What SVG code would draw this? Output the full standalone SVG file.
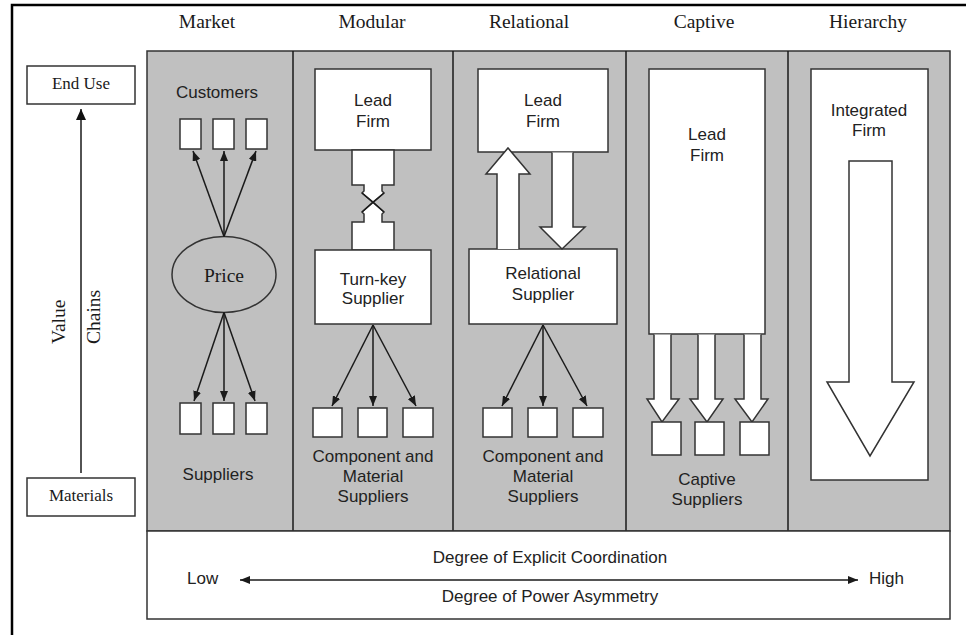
<svg xmlns="http://www.w3.org/2000/svg" width="966" height="635" viewBox="0 0 966 635">
<defs>
<marker id="ah" markerUnits="userSpaceOnUse" markerWidth="10" markerHeight="8" refX="10" refY="4" orient="auto-start-reverse"><path d="M0,0 L10,4 L0,8 z" fill="#1a1a1a"/></marker>
<marker id="ahBig" markerUnits="userSpaceOnUse" markerWidth="11" markerHeight="10" refX="11" refY="5" orient="auto"><path d="M0,0 L11,5 L0,10 z" fill="#111"/></marker>
</defs>
<style>
.serif{font-family:"Liberation Serif","Times New Roman",serif;font-size:19.5px;fill:#1a1a1a}
.sm{font-family:"Liberation Serif","Times New Roman",serif;font-size:17px;fill:#1a1a1a}
.sans{font-family:"Liberation Sans",Arial,sans-serif;font-size:17px;fill:#222}
.c{text-anchor:middle}
.box{fill:#fff;stroke:#333;stroke-width:1.5}
.panel{fill:#c0c0c0;stroke:#333;stroke-width:1.5}
.ln{fill:none;stroke:#1a1a1a;stroke-width:1.5}
.big{fill:#fff;stroke:#333;stroke-width:1.5;stroke-linejoin:miter}
</style>
<rect width="966" height="635" fill="#fff"/>
<path d="M12,635 V5 H966" fill="none" stroke="#000" stroke-width="2.5"/>

<g id="headers">
<text class="serif c" x="207" y="28">Market</text>
<text class="serif c" x="372" y="28">Modular</text>
<text class="serif c" x="529" y="28">Relational</text>
<text class="serif c" x="704" y="28">Captive</text>
<text class="serif c" x="868" y="28">Hierarchy</text>
</g>

<g id="panel">
<rect class="panel" x="147" y="51" width="803" height="480"/>
<line class="ln" x1="293" y1="51" x2="293" y2="531" stroke="#333"/>
<line class="ln" x1="453" y1="51" x2="453" y2="531" stroke="#333"/>
<line class="ln" x1="626" y1="51" x2="626" y2="531" stroke="#333"/>
<line class="ln" x1="788" y1="51" x2="788" y2="531" stroke="#333"/>
</g>

<g id="value-chain">
<rect class="box" x="27" y="66" width="108" height="38"/>
<text class="sm c" x="81" y="89">End Use</text>
<rect class="box" x="27" y="478" width="108" height="38"/>
<text class="sm c" x="81" y="501">Materials</text>
<text class="serif" transform="translate(65,344) rotate(-90)">Value</text>
<text class="serif" transform="translate(100,344) rotate(-90)">Chains</text>
</g>

<g id="market">
<text class="sans c" x="217" y="98">Customers</text>
<rect class="box" x="180" y="119" width="21" height="30"/>
<rect class="box" x="213" y="119" width="21" height="30"/>
<rect class="box" x="246" y="119" width="21" height="30"/>
<ellipse class="panel" cx="224" cy="274.5" rx="52" ry="38"/>
<text class="serif c" x="224" y="282">Price</text>
<rect class="box" x="180" y="403" width="21" height="31"/>
<rect class="box" x="213" y="403" width="21" height="31"/>
<rect class="box" x="246" y="403" width="21" height="31"/>
<text class="sans c" x="218" y="480">Suppliers</text>
</g>

<g id="modular">
<rect class="box" x="315" y="69" width="116" height="81"/>
<text class="sans c" x="373" y="106">Lead</text>
<text class="sans c" x="373" y="127">Firm</text>
<path class="big" d="M352,150 H394 V185 H382 V191 L384,193 L373,202 L362,193 L364,191 V185 H352 Z"/>
<path class="big" d="M352,250 H394 V222 H382 V214 L384,212 L373,202 L362,212 L364,214 V222 H352 Z"/>
<path class="ln" d="M362,193 L384,212 M384,193 L362,212" stroke="#333"/>
<rect class="box" x="315" y="250" width="116" height="74"/>
<text class="sans c" x="373" y="285">Turn-key</text>
<text class="sans c" x="373" y="304">Supplier</text>
<rect class="box" x="313" y="408" width="29" height="29"/>
<rect class="box" x="358" y="408" width="29" height="29"/>
<rect class="box" x="403" y="408" width="30" height="29"/>
<text class="sans c" x="373" y="462">Component and</text>
<text class="sans c" x="373" y="482">Material</text>
<text class="sans c" x="373" y="502">Suppliers</text>
</g>

<g id="relational">
<rect class="box" x="478" y="69" width="130" height="83"/>
<text class="sans c" x="543" y="106">Lead</text>
<text class="sans c" x="543" y="127">Firm</text>
<rect class="box" x="469" y="249" width="148" height="75"/>
<text class="sans c" x="543" y="279">Relational</text>
<text class="sans c" x="543" y="300">Supplier</text>
<path class="big" d="M497,249 V174 H486 L508,148 L530,174 H519 V249"/>
<path class="big" d="M552,152.5 V227 H540 L562,249 L585,227 H573 V152.5"/>
<rect class="box" x="483" y="408" width="29" height="29"/>
<rect class="box" x="528" y="408" width="29" height="29"/>
<rect class="box" x="573" y="408" width="30" height="29"/>
<text class="sans c" x="543" y="462">Component and</text>
<text class="sans c" x="543" y="482">Material</text>
<text class="sans c" x="543" y="502">Suppliers</text>
</g>

<g id="captive">
<rect class="box" x="649" y="69" width="116" height="265"/>
<text class="sans c" x="707" y="140">Lead</text>
<text class="sans c" x="707" y="161">Firm</text>
<path class="big" d="M654,334.5 V399 H647 L662,422 L679,399 H671 V334.5"/>
<path class="big" d="M698,334.5 V399 H690 L707,422 L723,399 H715 V334.5"/>
<path class="big" d="M744,334.5 V399 H735 L752,422 L768,399 H761 V334.5"/>
<rect class="box" x="652" y="422" width="29" height="33"/>
<rect class="box" x="695" y="422" width="29" height="33"/>
<rect class="box" x="740" y="422" width="29" height="33"/>
<text class="sans c" x="707" y="485">Captive</text>
<text class="sans c" x="707" y="505">Suppliers</text>
</g>

<g id="hierarchy">
<rect class="box" x="811" y="69" width="117" height="411"/>
<text class="sans c" x="869" y="116">Integrated</text>
<text class="sans c" x="869" y="136">Firm</text>
<path class="big" d="M849,161 H892 V382 H914 L870,456 L827,382 H849 Z"/>
</g>

<g id="coordination">
<rect class="box" x="147" y="531" width="803" height="88"/>
<text class="sans c" x="550" y="563">Degree of Explicit Coordination</text>
<text class="sans c" x="550" y="602">Degree of Power Asymmetry</text>
<text class="sans" x="187" y="584">Low</text>
<text class="sans" x="869" y="584">High</text>
</g>

<g id="connectors">
<line class="ln" x1="81" y1="473" x2="81" y2="109" stroke-width="3" stroke="#111" marker-end="url(#ahBig)"/>
<line class="ln" x1="224" y1="236.5" x2="193" y2="151" marker-end="url(#ah)"/>
<line class="ln" x1="224" y1="236.5" x2="224" y2="151" marker-end="url(#ah)"/>
<line class="ln" x1="224" y1="236.5" x2="256" y2="151" marker-end="url(#ah)"/>
<line class="ln" x1="224" y1="312.5" x2="194" y2="401" marker-end="url(#ah)"/>
<line class="ln" x1="224" y1="312.5" x2="224" y2="401" marker-end="url(#ah)"/>
<line class="ln" x1="224" y1="312.5" x2="255" y2="401" marker-end="url(#ah)"/>
<line class="ln" x1="373" y1="325" x2="332" y2="406" marker-end="url(#ah)"/>
<line class="ln" x1="373" y1="325" x2="373" y2="406" marker-end="url(#ah)"/>
<line class="ln" x1="373" y1="325" x2="416" y2="406" marker-end="url(#ah)"/>
<line class="ln" x1="543" y1="325" x2="502" y2="406" marker-end="url(#ah)"/>
<line class="ln" x1="543" y1="325" x2="543" y2="406" marker-end="url(#ah)"/>
<line class="ln" x1="543" y1="325" x2="587" y2="406" marker-end="url(#ah)"/>
<line class="ln" x1="240" y1="580" x2="858" y2="580" marker-start="url(#ah)" marker-end="url(#ah)"/>
</g>
</svg>
